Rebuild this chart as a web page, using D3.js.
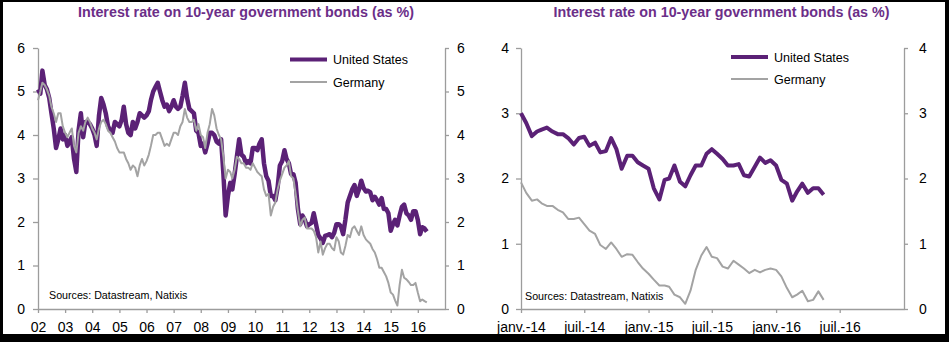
<!DOCTYPE html>
<html><head><meta charset="utf-8">
<script src="https://cdn.jsdelivr.net/npm/d3@7"></script>
<style>body{margin:0;background:#fff}svg{display:block}text{font-family:"Liberation Sans",Arial,sans-serif}</style>
</head><body><svg id="c" width="949" height="342"></svg>
<script>
const chartTitle = "Interest rate on 10-year government bonds (as %)";
const seriesNames = ["United States", "Germany"];
const sourceText = "Sources: Datastream, Natixis";

// Left panel: monthly, Jan 2002 - May 2016
const longUS = [
5.05,4.95,5.48,5.15,5.05,4.85,4.5,4.15,3.7,3.9,4.15,3.9,
4.0,3.75,3.85,3.95,3.45,3.15,4.1,4.5,3.95,4.3,4.3,4.25,
4.15,4.0,3.75,4.45,4.85,4.7,4.5,4.2,4.1,4.05,4.3,4.25,
4.2,4.35,4.65,4.25,4.05,4.0,4.3,4.15,4.3,4.5,4.45,4.4,
4.45,4.55,4.8,5.0,5.1,5.2,5.0,4.8,4.65,4.7,4.55,4.65,
4.8,4.65,4.6,4.65,4.9,5.2,4.85,4.6,4.55,4.5,4.1,4.05,
3.75,3.8,3.6,3.8,4.05,4.05,4.0,3.85,3.8,3.9,3.1,2.15,
2.6,2.9,2.75,3.1,3.5,3.9,3.55,3.5,3.35,3.4,3.35,3.7,
3.7,3.65,3.8,3.9,3.35,3.05,2.95,2.6,2.6,2.5,2.8,3.3,
3.4,3.65,3.45,3.35,3.1,3.1,2.9,2.3,1.95,2.15,2.05,1.9,
1.95,1.98,2.2,1.95,1.7,1.62,1.52,1.68,1.7,1.72,1.65,1.75,
1.95,1.95,1.9,1.72,2.05,2.45,2.6,2.75,2.85,2.6,2.75,2.95,
2.78,2.7,2.72,2.68,2.5,2.58,2.5,2.4,2.55,2.3,2.3,2.2,
1.8,1.95,2.05,1.92,2.15,2.35,2.4,2.2,2.15,2.05,2.25,2.25,
2.05,1.72,1.88,1.85,1.78];
const longDE = [
4.8,5.0,5.2,5.15,5.05,4.9,4.65,4.5,4.3,4.5,4.5,4.2,
4.05,3.95,4.05,4.15,3.75,3.6,4.05,4.2,4.1,4.3,4.4,4.3,
4.15,4.05,3.9,4.15,4.3,4.35,4.25,4.1,4.05,3.95,3.85,3.7,
3.6,3.6,3.6,3.45,3.35,3.2,3.3,3.25,3.05,3.3,3.45,3.3,
3.4,3.55,3.75,4.0,4.0,4.05,4.05,3.9,3.75,3.8,3.75,3.9,
4.05,4.05,4.0,4.2,4.3,4.6,4.4,4.3,4.3,4.35,4.1,4.25,
4.0,3.95,3.7,4.05,4.25,4.6,4.45,4.15,4.0,3.9,3.5,3.0,
3.2,3.15,3.0,3.2,3.5,3.45,3.35,3.35,3.25,3.25,3.2,3.35,
3.25,3.15,3.1,3.05,2.75,2.6,2.65,2.15,2.35,2.45,2.75,2.95,
3.1,3.25,3.3,3.4,3.05,3.0,2.65,2.25,1.9,2.05,2.1,1.85,
1.85,1.85,1.8,1.65,1.3,1.55,1.25,1.4,1.5,1.5,1.4,1.35,
1.65,1.55,1.3,1.25,1.45,1.7,1.65,1.85,1.9,1.8,1.7,1.9,
1.7,1.6,1.55,1.5,1.38,1.3,1.15,0.95,0.95,0.85,0.75,0.6,
0.38,0.33,0.2,0.08,0.55,0.9,0.72,0.68,0.62,0.55,0.55,0.6,
0.38,0.18,0.22,0.18,0.15];

// Right panel: twice a month (1st and 16th), Jan 2014 - May 2016
const shortUS = [
3.0,2.85,2.65,2.72,2.75,2.78,2.72,2.68,2.68,2.62,2.52,2.62,2.64,2.5,2.55,2.4,2.42,2.62,2.45,2.15,2.35,2.35,2.25,2.2,
2.15,1.85,1.68,1.98,2.0,2.2,1.95,1.88,2.05,2.2,2.2,2.38,2.45,2.38,2.3,2.2,2.2,2.22,2.05,2.03,2.18,2.32,2.24,2.28,
2.2,1.98,1.92,1.66,1.8,1.92,1.78,1.85,1.85,1.75];
const shortDE = [
1.94,1.78,1.66,1.68,1.62,1.58,1.58,1.52,1.48,1.38,1.38,1.4,1.3,1.2,1.15,0.98,0.92,1.02,0.92,0.8,0.84,0.83,0.72,0.62,
0.54,0.45,0.36,0.36,0.34,0.22,0.18,0.08,0.28,0.6,0.82,0.95,0.8,0.78,0.65,0.62,0.74,0.68,0.62,0.55,0.6,0.56,0.6,0.62,
0.6,0.5,0.32,0.18,0.22,0.28,0.12,0.14,0.27,0.14];

const longYTicks = [0,1,2,3,4,5,6];
const shortYTicks = [0,1,2,3,4];
const longXLabels = ["02","03","04","05","06","07","08","09","10","11","12","13","14","15","16"];
const shortXLabels = ["janv.-14","juil.-14","janv.-15","juil.-15","janv.-16","juil.-16"];

const PURPLE = "#5b2176", GRAY = "#a3a3a3", AXIS = "#9c9c9c", TITLE = "#6b2e88";

const svg = d3.select("#c");
svg.append("rect").attr("width", 949).attr("height", 342).attr("fill", "#000");
svg.append("rect").attr("x", 3).attr("y", 2).attr("width", 942).attr("height", 332).attr("fill", "#fff");

// dates
const longDates = d3.timeMonth.range(new Date(2002, 0, 1), new Date(2016, 5, 1));
const shortDates = [];
d3.timeMonth.range(new Date(2014, 0, 1), new Date(2016, 5, 1)).forEach(m => {
  shortDates.push(m, new Date(m.getFullYear(), m.getMonth(), 16));
});
const longTickDates = longXLabels.map((l, i) => new Date(2002 + i, 0, 1));
const shortTickDates = shortXLabels.map((l, i) => new Date(2014 + Math.floor(i / 2), (i % 2) * 6, 1));

function panel(o) {
  const g = svg.append("g");
  const x = d3.scaleTime().domain(o.xDomain).range([o.left, o.right]);
  const y = d3.scaleLinear().domain([0, o.yMax]).range([309, 48]);

  const styleAxis = (sel) => {
    sel.select(".domain").attr("stroke", AXIS).attr("stroke-width", 1.3);
    sel.selectAll(".tick line").attr("stroke", AXIS).attr("stroke-width", 1.3);
    sel.selectAll("text").attr("fill", "#000").style("font-size", "14px")
      .style("font-family", '"Liberation Sans", Arial, sans-serif');
  };

  g.append("g").attr("transform", `translate(${o.left},0)`)
    .call(d3.axisLeft(y).tickValues(o.yTicks).tickFormat(d3.format("d")).tickSize(5).tickSizeOuter(0).tickPadding(o.lpad))
    .call(styleAxis);
  g.append("g").attr("transform", `translate(${o.right},0)`)
    .call(d3.axisRight(y).tickValues(o.yTicks).tickFormat(d3.format("d")).tickSize(4).tickSizeOuter(0).tickPadding(o.rpad))
    .call(styleAxis);
  g.append("g").attr("transform", `translate(0,309)`)
    .call(d3.axisBottom(x).tickValues(o.xTicks).tickFormat((d, i) => o.xLabels[i]).tickSize(4).tickSizeOuter(0).tickPadding(9))
    .call(styleAxis);

  const line = d3.line().x((d, i) => x(o.dates[i])).y(d => y(d));
  g.append("path").datum(o.us).attr("d", line).attr("fill", "none")
    .attr("stroke", PURPLE).attr("stroke-width", o.usWidth).attr("stroke-linejoin", "round");
  g.append("path").datum(o.de).attr("d", line).attr("fill", "none")
    .attr("stroke", GRAY).attr("stroke-width", 2).attr("stroke-linejoin", "round");

  g.append("text").attr("x", o.titleX).attr("y", 17).attr("text-anchor", "middle")
    .attr("fill", TITLE).style("font-size", "14.3px").style("font-weight", "bold").text(chartTitle);

  // legend
  const lg = [{c: PURPLE, w: 4, y: o.legY[0]}, {c: GRAY, w: 2, y: o.legY[1]}];
  lg.forEach((d, i) => {
    g.append("line").attr("x1", o.legX).attr("x2", o.legX + 37).attr("y1", d.y).attr("y2", d.y)
      .attr("stroke", d.c).attr("stroke-width", d.w);
    g.append("text").attr("x", o.legX + 43).attr("y", d.y + 4.5).attr("fill", "#000")
      .style("font-size", "12.5px").text(seriesNames[i]);
  });

  g.append("text").attr("x", o.srcX).attr("y", o.srcY).attr("fill", "#000")
    .style("font-size", "10.7px").text(sourceText);
}

panel({
  left: 38, right: 445, xDomain: [new Date(2002, 0, 1), new Date(2017, 0, 1)], yMax: 6,
  yTicks: longYTicks, xTicks: longTickDates, xLabels: longXLabels, dates: longDates,
  us: longUS, de: longDE, usWidth: 4.5, lpad: 8, rpad: 8, titleX: 246,
  legX: 290, legY: [59.5, 82], srcX: 49, srcY: 298.5
});
panel({
  left: 521, right: 904, xDomain: [new Date(2014, 0, 1), new Date(2017, 0, 1)], yMax: 4,
  yTicks: shortYTicks, xTicks: shortTickDates, xLabels: shortXLabels, dates: shortDates,
  us: shortUS, de: shortDE, usWidth: 4, lpad: 7, rpad: 11, titleX: 721.5,
  legX: 731, legY: [57, 79], srcX: 525, srcY: 300
});
</script>
</body></html>
